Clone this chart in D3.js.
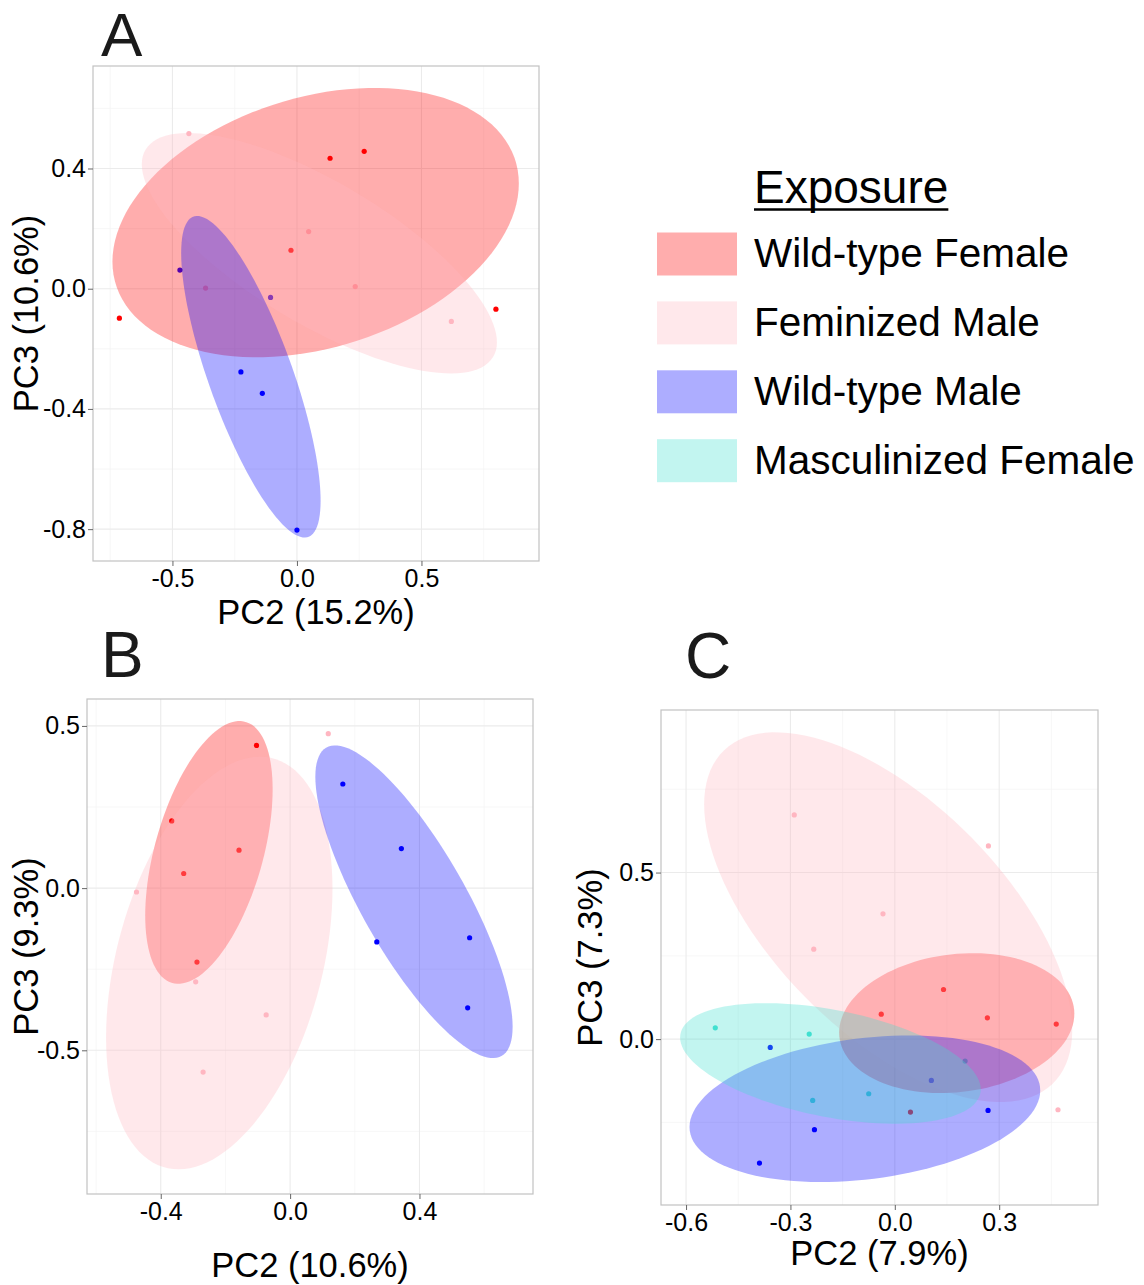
<!DOCTYPE html>
<html><head><meta charset="utf-8">
<script src="https://cdn.jsdelivr.net/npm/d3@7"></script>
<style>body{margin:0;background:#fff;} svg{display:block;font-family:"Liberation Sans",Arial,sans-serif;}</style>
</head><body><svg id="fig" width="1144" height="1285"></svg>
<script>
// ---------- data ----------
const groups = ["Wild-type Female", "Feminized Male", "Wild-type Male", "Masculinized Female"];
const groupColors = ["#FF0000", "#FFB6C1", "#0000FF", "#40E0D0"];

// Panel A
const A_pc2 = [0.133, 0.270, -0.024, -0.713, 0.799,  -0.434, 0.047, -0.367, 0.234, 0.620,  -0.470, -0.106, -0.225, -0.139, 0.000];
const A_pc3 = [0.434, 0.457, 0.128, -0.098, -0.068,  0.516, 0.190, 0.002, 0.007, -0.109,  0.062, -0.029, -0.277, -0.348, -0.803];
const A_grp = [0,0,0,0,0, 1,1,1,1,1, 2,2,2,2,2];
// ellipse: [centre PC2, centre PC3, half-width PC2, half-height PC3, correlation]
const A_ellipses = [[0.075, 0.220, 0.816, 0.448, 0.29], [0.090, 0.118, 0.713, 0.400, -0.74], [-0.185, -0.293, 0.280, 0.535, -0.77]];
const A_domainX = [-0.819, 0.972], A_domainY = [-0.906, 0.741];
const A_xTicks = [-0.5, 0, 0.5], A_xLabels = ["-0.5", "0.0", "0.5"];
const A_xMinor = [-0.75, -0.25, 0.25, 0.75];
const A_yTicks = [0.4, 0, -0.4, -0.8], A_yLabels = ["0.4", "0.0", "-0.4", "-0.8"];
const A_yMinor = [0.6, 0.2, -0.2, -0.6];

// Panel B
const B_pc2 = [-0.104, -0.366, -0.158, -0.329, -0.288,  0.118, -0.475, -0.292, -0.074, -0.269,  0.163, 0.344, 0.268, 0.555, 0.549];
const B_pc3 = [0.440, 0.207, 0.117, 0.045, -0.228,  0.476, -0.012, -0.289, -0.391, -0.567,  0.321, 0.122, -0.166, -0.153, -0.369];
const B_grp = [0,0,0,0,0, 1,1,1,1,1, 2,2,2,2,2];
const B_ellipses = [[-0.251, 0.110, 0.197, 0.405, 0.48], [-0.219, -0.231, 0.350, 0.636, 0.36], [0.383, -0.042, 0.305, 0.482, -0.80]];
const B_domainX = [-0.628, 0.751], B_domainY = [-0.943, 0.583];
const B_xTicks = [-0.4, 0, 0.4], B_xLabels = ["-0.4", "0.0", "0.4"];
const B_xMinor = [-0.6, -0.2, 0.2, 0.6];
const B_yTicks = [0.5, 0, -0.5], B_yLabels = ["0.5", "0.0", "-0.5"];
const B_yMinor = [0.25, -0.25, -0.75];

// Panel C
const C_pc2 = [0.140, -0.039, 0.266, 0.464, 0.045,  -0.289, 0.269, -0.034, -0.233, 0.469,  -0.358, 0.105, 0.268, -0.231, -0.389,  -0.516, -0.246, -0.075, -0.236, 0.202];
const C_pc3 = [0.149, 0.075, 0.064, 0.045, -0.219,  0.673, 0.580, 0.376, 0.270, -0.212,  -0.025, -0.124, -0.214, -0.272, -0.372,  0.034, 0.015, -0.164, -0.184, -0.066];
const C_grp = [0,0,0,0,0, 1,1,1,1,1, 2,2,2,2,2, 3,3,3,3,3];
const C_ellipses = [[0.178, 0.048, 0.338, 0.210, 0.135], [-0.019, 0.366, 0.529, 0.555, -0.61], [-0.086, -0.209, 0.504, 0.220, 0.25], [-0.185, -0.073, 0.432, 0.181, -0.43]];
const C_domainX = [-0.672, 0.584], C_domainY = [-0.498, 0.988];
const C_xTicks = [-0.6, -0.3, 0, 0.3], C_xLabels = ["-0.6", "-0.3", "0.0", "0.3"];
const C_xMinor = [-0.45, -0.15, 0.15, 0.45];
const C_yTicks = [0.5, 0], C_yLabels = ["0.5", "0.0"];
const C_yMinor = [0.75, 0.25, -0.25];

// ---------- drawing ----------
const svg = d3.select("#fig");
const FILL_OPACITY = 0.32;

function panel(cfg) {
  const x = d3.scaleLinear().domain(cfg.domX).range([cfg.left, cfg.right]);
  const y = d3.scaleLinear().domain(cfg.domY).range([cfg.bottom, cfg.top]);
  const g = svg.append("g");
  const clipId = "clip" + cfg.name;
  svg.append("clipPath").attr("id", clipId).append("rect")
    .attr("x", cfg.left).attr("y", cfg.top)
    .attr("width", cfg.right - cfg.left).attr("height", cfg.bottom - cfg.top);

  // grid
  const grid = g.append("g");
  cfg.xMinor.forEach(v => grid.append("line").attr("x1", x(v)).attr("x2", x(v)).attr("y1", cfg.top).attr("y2", cfg.bottom).attr("stroke", "#F3F3F3").attr("stroke-width", 0.7));
  cfg.yMinor.forEach(v => { if (v > cfg.domY[0] && v < cfg.domY[1]) grid.append("line").attr("y1", y(v)).attr("y2", y(v)).attr("x1", cfg.left).attr("x2", cfg.right).attr("stroke", "#F3F3F3").attr("stroke-width", 0.7); });
  cfg.xTicks.forEach(v => grid.append("line").attr("x1", x(v)).attr("x2", x(v)).attr("y1", cfg.top).attr("y2", cfg.bottom).attr("stroke", "#EBEBEB").attr("stroke-width", 1.1));
  cfg.yTicks.forEach(v => grid.append("line").attr("y1", y(v)).attr("y2", y(v)).attr("x1", cfg.left).attr("x2", cfg.right).attr("stroke", "#EBEBEB").attr("stroke-width", 1.1));

  const plot = g.append("g").attr("clip-path", `url(#${clipId})`);
  // points (drawn beneath ellipses)
  plot.selectAll("circle").data(cfg.px.map((v, i) => [v, cfg.py[i], cfg.grp[i]]))
    .join("circle")
    .attr("cx", d => x(d[0])).attr("cy", d => y(d[1])).attr("r", 2.6)
    .attr("fill", d => groupColors[d[2]]);
  // ellipses
  const ts = d3.range(0, 121).map(i => 2 * Math.PI * i / 120);
  const line = d3.line().x(d => x(d[0])).y(d => y(d[1]));
  cfg.ell.forEach((e, gi) => {
    const [cx, cy, hx, hy, r] = e;
    const s = Math.sqrt(1 - r * r);
    const pts = ts.map(t => [cx + hx * Math.cos(t), cy + hy * (r * Math.cos(t) + s * Math.sin(t))]);
    plot.append("path").attr("d", line(pts) + "Z")
      .attr("fill", groupColors[gi]).attr("fill-opacity", FILL_OPACITY).attr("stroke", "none");
  });

  // border
  g.append("rect").attr("x", cfg.left).attr("y", cfg.top)
    .attr("width", cfg.right - cfg.left).attr("height", cfg.bottom - cfg.top)
    .attr("fill", "none").attr("stroke", "#C2C2C2").attr("stroke-width", 1.2);

  // axes
  const xa = g.append("g").attr("transform", `translate(0,${cfg.bottom})`)
    .call(d3.axisBottom(x).tickValues(cfg.xTicks).tickFormat((d, i) => cfg.xLabels[i]).tickSize(5).tickPadding(3));
  const ya = g.append("g").attr("transform", `translate(${cfg.left},0)`)
    .call(d3.axisLeft(y).tickValues(cfg.yTicks).tickFormat((d, i) => cfg.yLabels[i]).tickSize(5).tickPadding(2));
  [xa, ya].forEach(a => {
    a.select(".domain").remove();
    a.selectAll(".tick line").attr("stroke", "#666").attr("stroke-width", 1);
    a.selectAll(".tick text").attr("fill", "#000").attr("font-size", 25)
      .attr("font-family", '"Liberation Sans", Arial, sans-serif');
  });

  // axis titles
  g.append("text").attr("x", (cfg.left + cfg.right) / 2).attr("y", cfg.xTitleY)
    .attr("text-anchor", "middle").attr("font-size", 34.5).attr("fill", "#000").text(cfg.xTitle);
  g.append("text").attr("transform", `translate(${cfg.yTitleX},${(cfg.top + cfg.bottom) / 2}) rotate(-90)`)
    .attr("text-anchor", "middle").attr("font-size", 34.5).attr("fill", "#000").text(cfg.yTitle);
  // panel tag
  g.append("text").attr("x", cfg.tagX).attr("y", cfg.tagY).attr("font-size", cfg.tagSize).attr("fill", "#1A1A1A").text(cfg.name);
}

panel({name: "A", left: 93, right: 539, top: 66, bottom: 561,
  domX: A_domainX, domY: A_domainY, px: A_pc2, py: A_pc3, grp: A_grp, ell: A_ellipses,
  xTicks: A_xTicks, xLabels: A_xLabels, xMinor: A_xMinor, yTicks: A_yTicks, yLabels: A_yLabels, yMinor: A_yMinor,
  xTitle: "PC2 (15.2%)", yTitle: "PC3 (10.6%)", xTitleY: 624, yTitleX: 38, tagX: 101, tagY: 56, tagSize: 62});

panel({name: "B", left: 87, right: 533, top: 699, bottom: 1194,
  domX: B_domainX, domY: B_domainY, px: B_pc2, py: B_pc3, grp: B_grp, ell: B_ellipses,
  xTicks: B_xTicks, xLabels: B_xLabels, xMinor: B_xMinor, yTicks: B_yTicks, yLabels: B_yLabels, yMinor: B_yMinor,
  xTitle: "PC2 (10.6%)", yTitle: "PC3 (9.3%)", xTitleY: 1277, yTitleX: 38, tagX: 101, tagY: 677, tagSize: 64});

panel({name: "C", left: 661, right: 1098, top: 710, bottom: 1205,
  domX: C_domainX, domY: C_domainY, px: C_pc2, py: C_pc3, grp: C_grp, ell: C_ellipses,
  xTicks: C_xTicks, xLabels: C_xLabels, xMinor: C_xMinor, yTicks: C_yTicks, yLabels: C_yLabels, yMinor: C_yMinor,
  xTitle: "PC2 (7.9%)", yTitle: "PC3 (7.3%)", xTitleY: 1265, yTitleX: 602, tagX: 685, tagY: 678, tagSize: 64});

// legend
const leg = svg.append("g");
const title = leg.append("text").attr("x", 754).attr("y", 203).attr("font-size", 46).attr("fill", "#000").text("Exposure");
const tw = title.node().getComputedTextLength();
leg.append("line").attr("x1", 754).attr("x2", 754 + tw).attr("y1", 209.5).attr("y2", 209.5).attr("stroke", "#000").attr("stroke-width", 2.5);
groups.forEach((name, i) => {
  const yc = 254 + i * 68.9;
  leg.append("rect").attr("x", 657).attr("y", yc - 21.5).attr("width", 80).attr("height", 43)
    .attr("fill", groupColors[i]).attr("fill-opacity", FILL_OPACITY);
  leg.append("text").attr("x", 754).attr("y", yc + 13).attr("font-size", 40.5).attr("fill", "#000").text(name);
});
</script></body></html>
